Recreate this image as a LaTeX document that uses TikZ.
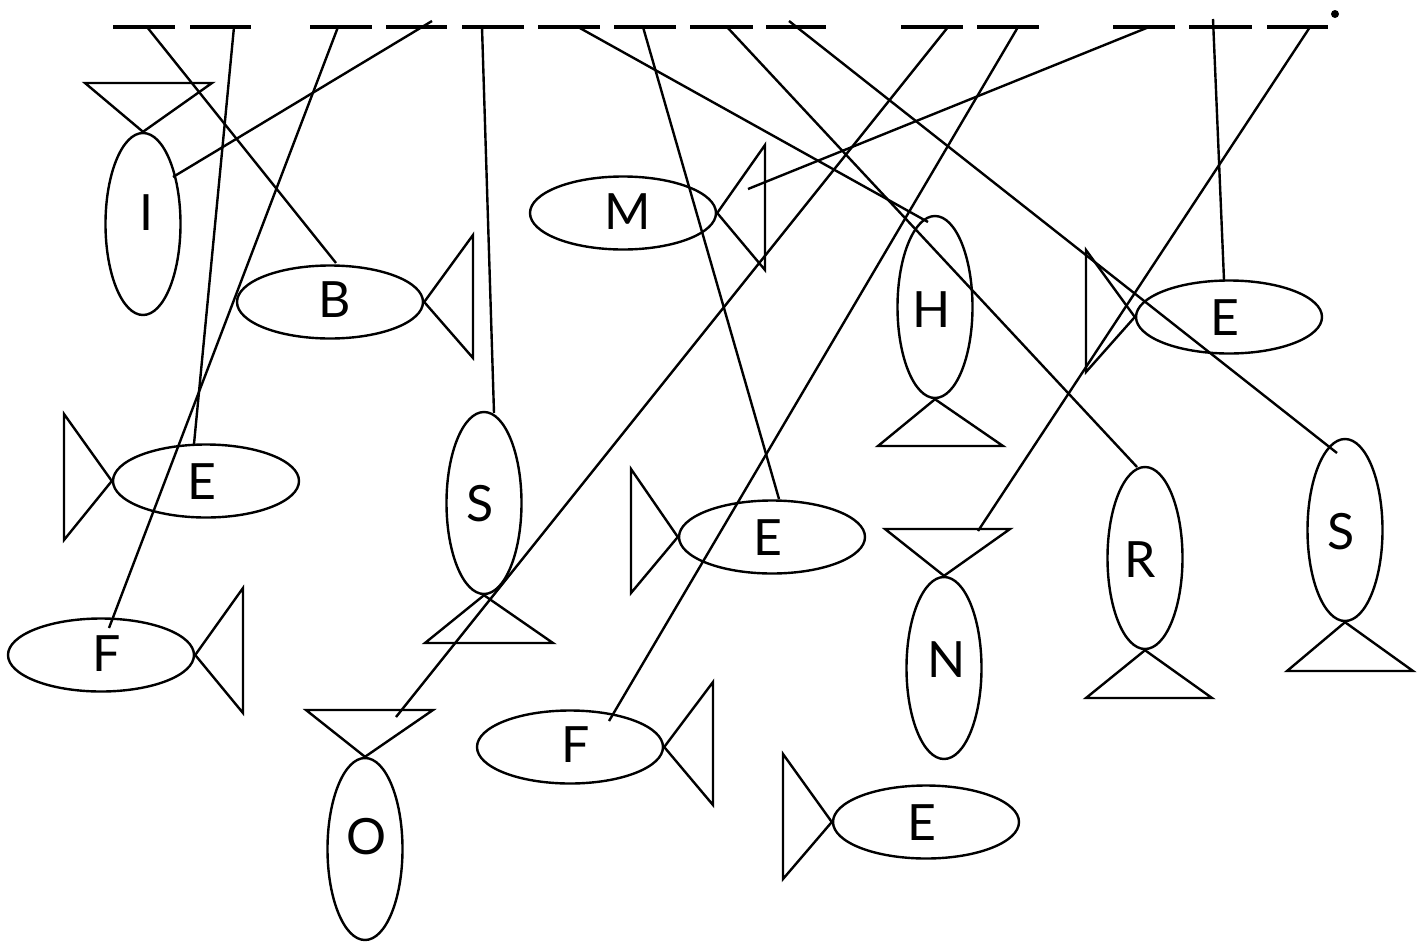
\documentclass[tikz,border=0pt]{standalone}
\usepackage{fontspec}
\setmainfont{Lato}
\usetikzlibrary{shapes.geometric}
\begin{document}
\begin{tikzpicture}[x=1pt,y=-1pt,
  fishbody/.style={draw, ellipse, line width=2.4pt, inner sep=0pt},
  hbody/.style={fishbody, minimum width=186pt, minimum height=73pt},
  vbody/.style={fishbody, minimum width=75pt, minimum height=182pt},
  letter/.style={inner sep=0pt, font=\fontsize{50}{50}\selectfont},
  tail/.style={line width=2.4pt, line join=miter},
  link/.style={line width=2.4pt},
  dashseg/.style={line width=4.5pt}]
\useasboundingbox (0,0) rectangle (1424,943);

% fish bodies
\node[vbody] (I)  at (143,224) {};
\node[hbody] (B)  at (330,302) {};
\node[hbody] (M)  at (623,213) {};
\node[vbody] (H)  at (935,307) {};
\node[hbody] (ER) at (1229,317) {};
\node[hbody] (EL) at (206,481) {};
\node[vbody] (SM) at (484,503) {};
\node[hbody] (EM) at (772,537) {};
\node[vbody] (R)  at (1145,558) {};
\node[vbody] (SR) at (1345,530) {};
\node[hbody] (FL) at (101,655) {};
\node[vbody] (N)  at (944,668) {};
\node[vbody] (O)  at (365,849) {};
\node[hbody] (FM) at (570,747) {};
\node[hbody] (EB) at (926,822) {};

% letters
\node[letter] (lI)  at (146,213) {I};
\node[letter] (lB)  at (335,300) {B};
\node[letter] (lM)  at (628,212) {M};
\node[letter] (lH)  at (932,310) {H};
\node[letter] (lER) at (1225,318) {E};
\node[letter] (lEL) at (202,482) {E};
\node[letter] (lSM) at (480,504) {S};
\node[letter] (lEM) at (768,538) {E};
\node[letter] (lR)  at (1140,560) {R};
\node[letter] (lSR) at (1341,532) {S};
\node[letter] (lFL) at (107,654) {F};
\node[letter] (lN)  at (947,660) {N};
\node[letter] (lO)  at (367,837) {O};
\node[letter] (lFM) at (576,745) {F};
\node[letter] (lEB) at (922,823) {E};

% tails
\draw[tail] (I.north)  -- (85,83)   -- (212,83)   -- cycle;
\draw[tail] (B.east)   -- (473,235) -- (473,358)  -- cycle;
\draw[tail] (M.east)   -- (765,145) -- (765,270)  -- cycle;
\draw[tail] (H.south)  -- (878,446) -- (1003,446) -- cycle;
\draw[tail] (ER.west)  -- (1086,250) -- (1086,372) -- cycle;
\draw[tail] (EL.west)  -- (64,414)  -- (64,540)   -- cycle;
\draw[tail] (SM.south) -- (425,643) -- (553,643)  -- cycle;
\draw[tail] (EM.west)  -- (631,469) -- (631,593)  -- cycle;
\draw[tail] (R.south)  -- (1086,698) -- (1212,698) -- cycle;
\draw[tail] (SR.south) -- (1287,671) -- (1413,671) -- cycle;
\draw[tail] (FL.east)  -- (243,588) -- (243,713)  -- cycle;
\draw[tail] (N.north)  -- (885,529) -- (1010,529) -- cycle;
\draw[tail] (O.north)  -- (306,710) -- (433,710)  -- cycle;
\draw[tail] (FM.east)  -- (713,682) -- (713,805)  -- cycle;
\draw[tail] (EB.west)  -- (783,754) -- (783,879)  -- cycle;

% dashed top line
\foreach \a/\b in {113/175,190/251,310/372,386/447,462/524,538/600,614/676,
                   690/753,766/826,901/963,977/1039,1113/1175,1189/1252,1267/1328}
  \draw[dashseg] (\a,27) -- (\b,27);
\fill (1335,14) circle[radius=4];

% connector start points
\coordinate (t1) at (147,27);
\coordinate (t2) at (234,27);
\coordinate (t3) at (338,27);
\coordinate (t4) at (432,21);
\coordinate (t5) at (482,27);
\coordinate (t6) at (578,27);
\coordinate (t7) at (643,27);
\coordinate (t8) at (727,27);
\coordinate (t9) at (789,21);
\coordinate (t10) at (948,27);
\coordinate (t11) at (1018,27);
\coordinate (t12) at (1149,27);
\coordinate (t13) at (1213,19);
\coordinate (t14) at (1310,27);

% connector end points
\coordinate (e1) at (336,263);
\coordinate (e2) at (194,444);
\coordinate (e3) at (109,628);
\coordinate (e4) at (173,177);
\coordinate (e5) at (494,413);
\coordinate (e6) at (928,222);
\coordinate (e7) at (779,499);
\coordinate (e8) at (1137,467);
\coordinate (e9) at (1337,453);
\coordinate (e10) at (396,717);
\coordinate (e11) at (609,721);
\coordinate (e12) at (748,189);
\coordinate (e13) at (1224,280);
\coordinate (e14) at (978,531);

\foreach \i in {1,...,14}
  \draw[link] (t\i) -- (e\i);
\end{tikzpicture}
\end{document}
